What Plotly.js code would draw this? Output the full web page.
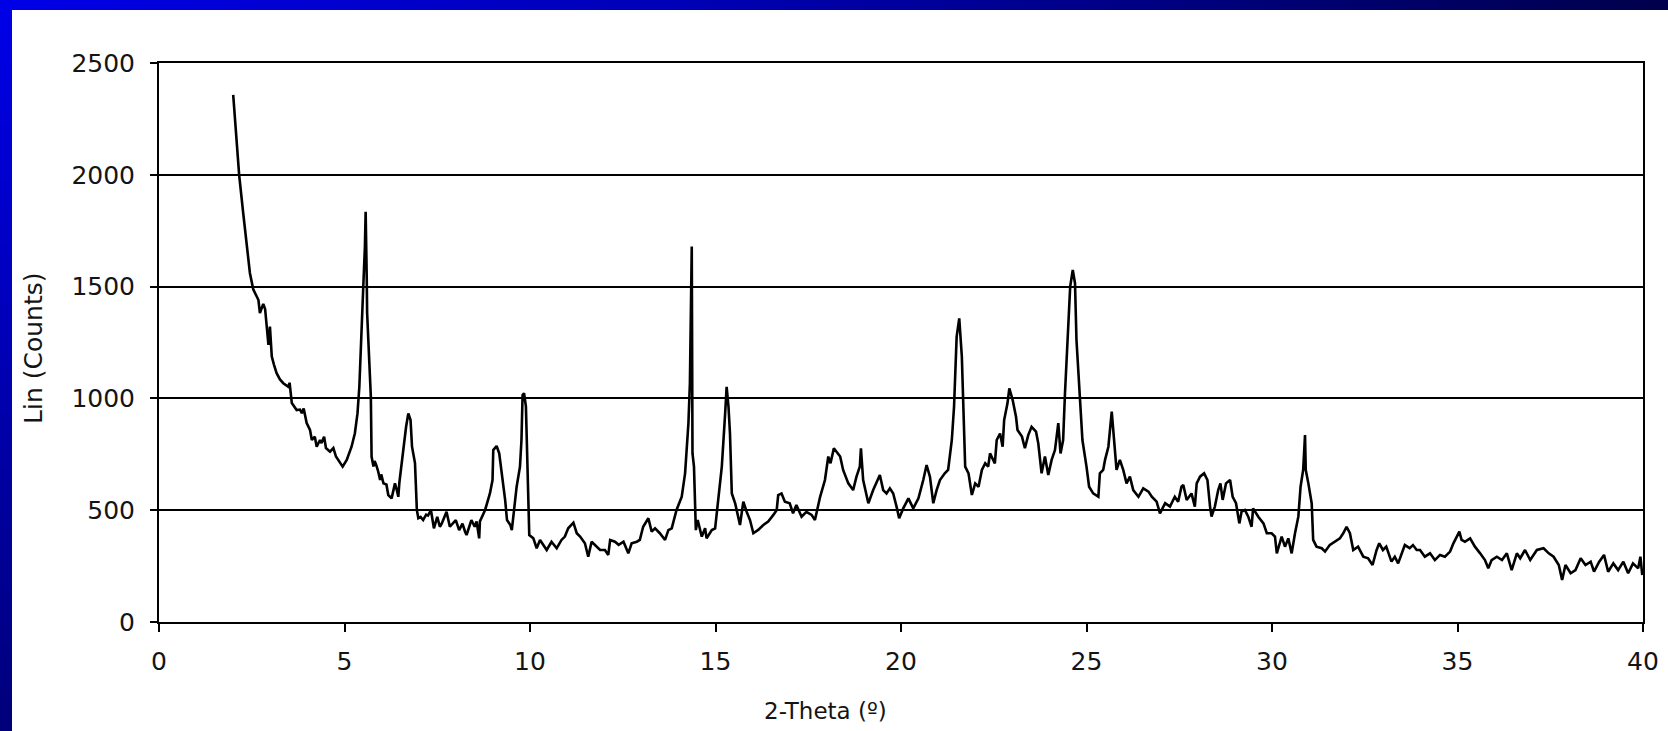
<!DOCTYPE html>
<html>
<head>
<meta charset="utf-8">
<script src="https://cdn.plot.ly/plotly-3.0.1.min.js"></script>
<style>
  html, body { margin: 0; padding: 0; background: #ffffff; }
  #wrap { position: relative; width: 1668px; height: 731px; overflow: hidden; background: #ffffff; }
  #chart { position: absolute; left: 0; top: 0; width: 1668px; height: 731px; }
  .bar-top { position: absolute; left: 0; top: 0; width: 1668px; height: 10px;
             background: linear-gradient(to right, #0000e8 0%, #0000b8 40%, #000078 75%, #00004c 100%); }
  .bar-left { position: absolute; left: 0; top: 0; width: 12px; height: 731px;
              background: linear-gradient(to bottom, #0000e8 0%, #0000c4 35%, #00009c 70%, #00007a 100%); }
</style>
</head>
<body>
<div id="wrap">
  <div id="chart"></div>
  <div class="bar-top"></div>
  <div class="bar-left"></div>
</div>
<script>
// Powder diffraction scan: 2-theta (degrees) against detector counts
const twoTheta = [
  2.00, 2.08, 2.16, 2.27, 2.36, 2.45, 2.54, 2.68, 2.72, 2.81, 2.86, 2.90, 2.95, 2.99, 3.04, 3.10, 3.17, 3.26, 3.35, 3.49,
  3.52, 3.58, 3.71, 3.80, 3.85, 3.90, 3.98, 4.07, 4.12, 4.20, 4.25, 4.34, 4.38, 4.45, 4.50, 4.61, 4.70, 4.77, 4.88, 4.95,
  5.06, 5.19, 5.28, 5.35, 5.40, 5.46, 5.51, 5.55, 5.57, 5.60, 5.61, 5.67, 5.71, 5.73, 5.78, 5.81, 5.85, 5.91, 5.96, 5.99,
  6.05, 6.13, 6.18, 6.27, 6.32, 6.36, 6.41, 6.45, 6.48, 6.54, 6.60, 6.66, 6.72, 6.78, 6.82, 6.90, 6.95, 6.99, 7.05, 7.12,
  7.20, 7.25, 7.33, 7.41, 7.50, 7.57, 7.62, 7.75, 7.84, 8.00, 8.09, 8.18, 8.25, 8.29, 8.42, 8.51, 8.56, 8.63, 8.65, 8.79,
  8.92, 8.99, 9.01, 9.10, 9.17, 9.24, 9.33, 9.38, 9.47, 9.51, 9.57, 9.64, 9.73, 9.77, 9.80, 9.84, 9.89, 9.93, 9.98, 10.09,
  10.18, 10.27, 10.36, 10.45, 10.58, 10.72, 10.85, 10.94, 11.03, 11.17, 11.26, 11.35, 11.48, 11.57, 11.66, 11.80, 11.89, 12.02, 12.11, 12.16,
  12.29, 12.39, 12.52, 12.65, 12.74, 12.88, 12.96, 13.05, 13.19, 13.28, 13.37, 13.50, 13.64, 13.73, 13.82, 13.95, 14.09, 14.18, 14.27, 14.31,
  14.36, 14.38, 14.42, 14.47, 14.52, 14.63, 14.72, 14.76, 14.90, 14.99, 15.08, 15.17, 15.26, 15.30, 15.35, 15.39, 15.44, 15.53, 15.66, 15.75,
  15.84, 15.93, 16.02, 16.15, 16.29, 16.42, 16.56, 16.65, 16.69, 16.78, 16.87, 17.00, 17.09, 17.18, 17.32, 17.45, 17.59, 17.68, 17.82, 17.95,
  18.04, 18.10, 18.19, 18.36, 18.44, 18.58, 18.71, 18.80, 18.89, 18.92, 18.98, 19.12, 19.25, 19.43, 19.52, 19.61, 19.70, 19.79, 19.88, 19.95,
  20.06, 20.20, 20.33, 20.47, 20.60, 20.69, 20.78, 20.87, 20.96, 21.05, 21.18, 21.27, 21.37, 21.43, 21.50, 21.57, 21.64, 21.68, 21.73, 21.82,
  21.91, 22.00, 22.09, 22.18, 22.27, 22.35, 22.40, 22.53, 22.58, 22.67, 22.74, 22.78, 22.87, 22.92, 23.01, 23.10, 23.14, 23.26, 23.34, 23.43,
  23.52, 23.64, 23.70, 23.79, 23.88, 23.97, 24.06, 24.15, 24.24, 24.30, 24.37, 24.42, 24.48, 24.56, 24.63, 24.69, 24.73, 24.82, 24.89, 25.00,
  25.07, 25.18, 25.32, 25.36, 25.45, 25.50, 25.59, 25.68, 25.74, 25.81, 25.90, 25.99, 26.08, 26.17, 26.26, 26.40, 26.53, 26.67, 26.76, 26.89,
  26.98, 27.12, 27.25, 27.38, 27.47, 27.56, 27.61, 27.70, 27.83, 27.92, 27.97, 28.06, 28.17, 28.26, 28.33, 28.37, 28.46, 28.55, 28.61, 28.67,
  28.76, 28.87, 28.94, 29.03, 29.12, 29.18, 29.27, 29.36, 29.45, 29.49, 29.63, 29.77, 29.86, 29.99, 30.08, 30.13, 30.26, 30.35, 30.44, 30.53,
  30.62, 30.71, 30.77, 30.84, 30.89, 30.91, 30.98, 31.07, 31.11, 31.20, 31.34, 31.43, 31.56, 31.70, 31.83, 31.92, 32.01, 32.10, 32.19, 32.32,
  32.46, 32.59, 32.71, 32.82, 32.89, 32.99, 33.08, 33.22, 33.31, 33.40, 33.49, 33.58, 33.71, 33.80, 33.90, 33.99, 34.12, 34.26, 34.39, 34.53,
  34.66, 34.80, 34.89, 34.98, 35.05, 35.11, 35.20, 35.34, 35.47, 35.61, 35.74, 35.83, 35.92, 36.06, 36.20, 36.33, 36.46, 36.60, 36.69, 36.82,
  36.96, 37.14, 37.32, 37.46, 37.59, 37.73, 37.82, 37.91, 38.05, 38.18, 38.32, 38.45, 38.59, 38.68, 38.82, 38.95, 39.06, 39.20, 39.33, 39.47,
  39.60, 39.73, 39.87, 39.93, 39.98
];

const counts = [
  2357, 2180, 2000, 1828, 1690, 1561, 1488, 1440, 1382, 1422, 1400, 1321, 1239, 1321, 1187, 1150, 1113, 1085, 1068, 1052,
  1070, 979, 948, 950, 934, 955, 890, 859, 814, 829, 784, 814, 800, 829, 778, 762, 778, 740, 712, 695,
  725, 784, 844, 933, 1052, 1351, 1516, 1679, 1835, 1530, 1382, 1158, 1008, 740, 695, 720, 705, 672, 635, 660,
  620, 615, 568, 553, 590, 620, 590, 560, 625, 709, 799, 873, 933, 903, 784, 711, 501, 464, 470, 456,
  480, 476, 500, 419, 470, 426, 440, 493, 426, 456, 411, 440, 404, 389, 456, 426, 450, 374, 450, 501,
  575, 635, 769, 787, 754, 665, 546, 456, 434, 411, 516, 605, 695, 814, 1015, 1023, 963, 665, 389, 374,
  330, 367, 345, 322, 359, 330, 367, 382, 419, 444, 397, 382, 352, 292, 359, 337, 322, 322, 300, 367,
  359, 345, 359, 307, 352, 359, 367, 426, 464, 404, 419, 397, 367, 411, 419, 501, 560, 665, 889, 1067,
  1679, 754, 695, 411, 456, 382, 419, 374, 411, 419, 546, 695, 933, 1052, 963, 844, 575, 531, 434, 538,
  493, 456, 397, 412, 434, 449, 479, 501, 568, 575, 538, 531, 486, 523, 471, 493, 479, 456, 560, 635,
  740, 710, 777, 740, 680, 620, 590, 650, 695, 777, 635, 531, 590, 657, 590, 575, 598, 575, 516, 464,
  508, 553, 508, 553, 635, 702, 650, 531, 590, 635, 665, 680, 814, 963, 1276, 1358, 1187, 963, 695, 665,
  568, 620, 605, 680, 710, 695, 754, 709, 814, 843, 784, 903, 978, 1045, 993, 918, 859, 829, 777, 836,
  873, 851, 799, 665, 740, 657, 725, 769, 889, 754, 814, 1023, 1261, 1500, 1574, 1515, 1261, 993, 814, 695,
  605, 575, 560, 665, 680, 725, 784, 941, 829, 680, 725, 680, 620, 650, 590, 560, 598, 583, 560, 538,
  486, 531, 516, 560, 538, 605, 613, 546, 575, 516, 620, 650, 665, 635, 516, 471, 516, 590, 620, 546,
  620, 635, 560, 531, 441, 494, 501, 471, 426, 508, 471, 441, 397, 397, 382, 307, 382, 337, 374, 307,
  397, 471, 605, 680, 836, 680, 620, 531, 367, 337, 330, 315, 345, 359, 374, 397, 426, 397, 322, 337,
  292, 285, 255, 322, 352, 322, 337, 270, 292, 262, 307, 344, 330, 344, 322, 322, 292, 307, 277, 300,
  292, 315, 352, 382, 404, 367, 359, 374, 337, 307, 277, 240, 277, 292, 277, 307, 232, 307, 285, 322,
  277, 322, 330, 307, 292, 255, 188, 255, 218, 232, 285, 255, 270, 225, 270, 300, 225, 262, 232, 270,
  218, 262, 240, 292, 210
];

const xTicks = [0, 5, 10, 15, 20, 25, 30, 35, 40];
const yTicks = [0, 500, 1000, 1500, 2000, 2500];

const xTitle = '2-Theta (º)';
const yTitle = 'Lin (Counts)';

const labelFont = { family: 'DejaVu Sans, Verdana, sans-serif', size: 25, color: '#141414' };

const trace = {
  x: twoTheta,
  y: counts,
  type: 'scatter',
  mode: 'lines',
  line: { color: '#000000', width: 2.6 },
  hoverinfo: 'x+y'
};

const layout = {
  width: 1668,
  height: 731,
  margin: { l: 159, r: 25, t: 63, b: 109, pad: 0 },
  paper_bgcolor: 'rgba(0,0,0,0)',
  plot_bgcolor: '#ffffff',
  showlegend: false,
  xaxis: {
    range: [0, 40],
    tickmode: 'array',
    tickvals: xTicks,
    ticktext: xTicks.map(String),
    showgrid: false,
    zeroline: false,
    showline: true,
    linecolor: '#000000',
    linewidth: 2,
    mirror: true,
    ticks: 'outside',
    ticklen: 8,
    tickwidth: 2,
    tickcolor: '#000000',
    ticklabelstandoff: 8,
    tickfont: labelFont
  },
  yaxis: {
    range: [0, 2500],
    tickmode: 'array',
    tickvals: yTicks,
    ticktext: yTicks.map(String),
    showgrid: true,
    gridcolor: '#000000',
    gridwidth: 2,
    zeroline: false,
    showline: true,
    linecolor: '#000000',
    linewidth: 2,
    mirror: true,
    ticks: 'outside',
    ticklen: 7,
    tickwidth: 2,
    tickcolor: '#000000',
    ticklabelstandoff: 10,
    tickfont: labelFont
  },
  annotations: [
    {
      text: xTitle, xref: 'paper', yref: 'paper',
      x: 0.449, y: -0.159, xanchor: 'center', yanchor: 'middle',
      showarrow: false, font: { family: labelFont.family, size: 23, color: '#141414' }
    },
    {
      text: yTitle, xref: 'paper', yref: 'paper',
      x: -0.085, y: 0.49, xanchor: 'center', yanchor: 'middle', textangle: -90,
      showarrow: false, font: { family: labelFont.family, size: 25, color: '#141414' }
    }
  ]
};

Plotly.newPlot('chart', [trace], layout, { staticPlot: true, displayModeBar: false });
</script>
</body>
</html>
